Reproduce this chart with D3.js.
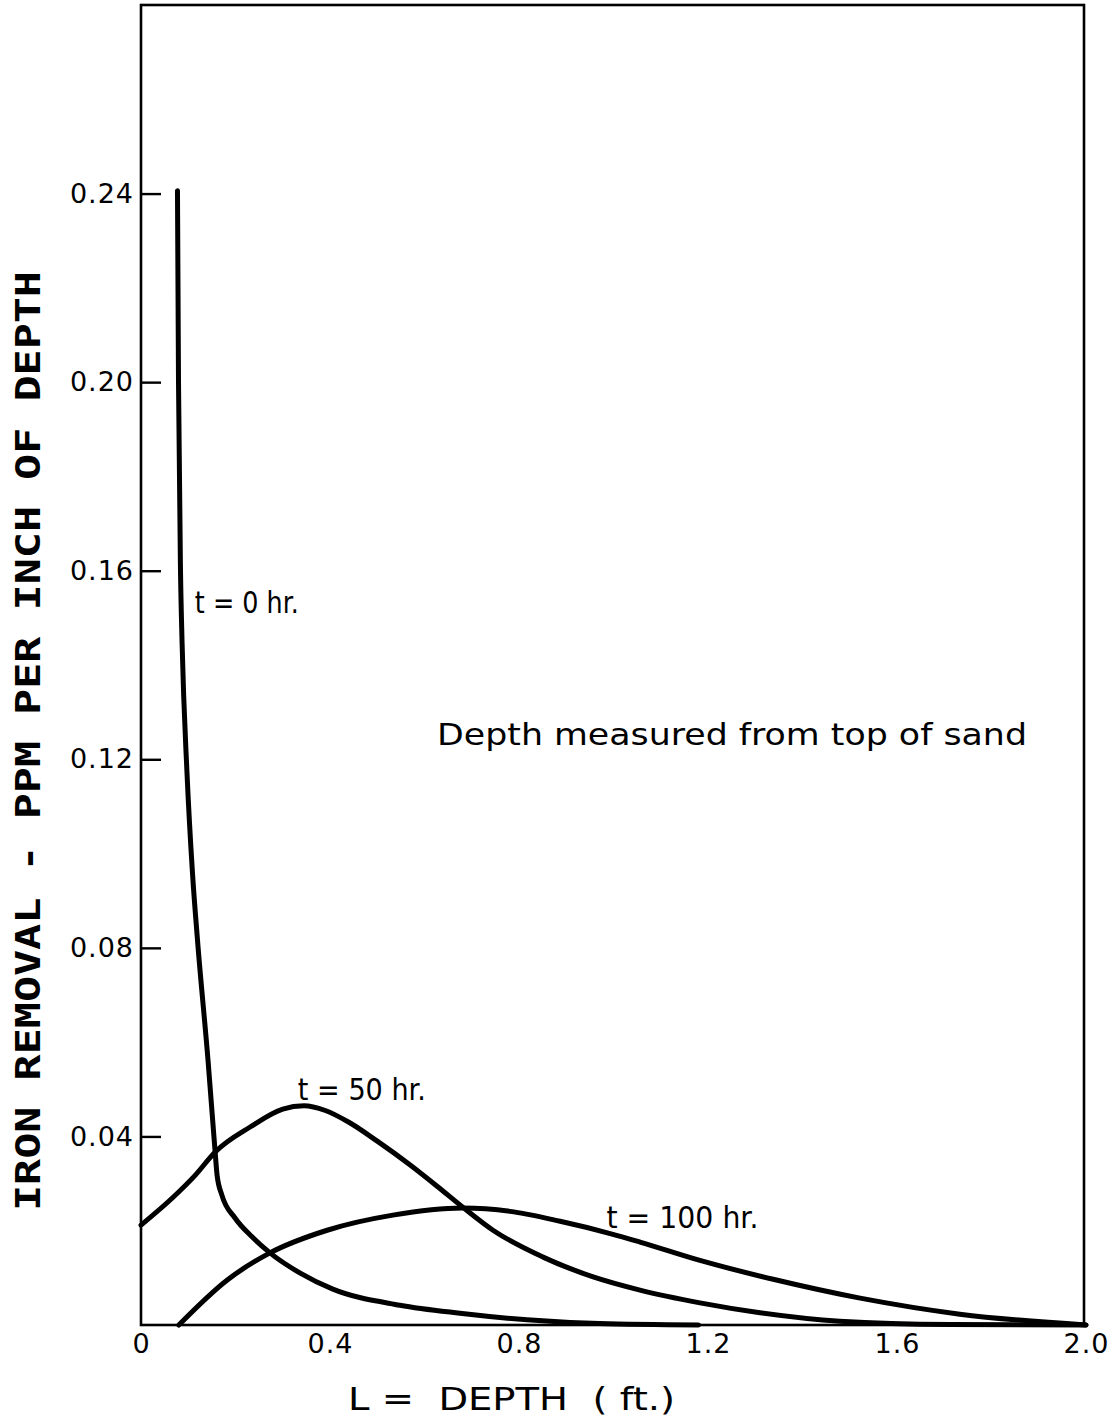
<!DOCTYPE html>
<html>
<head>
<meta charset="utf-8">
<script src="https://cdn.jsdelivr.net/npm/d3@7"></script>
<style>
  html, body { margin: 0; padding: 0; background: #fff; }
  svg { display: block; }
  .tick text { font-family: "DejaVu Sans", sans-serif; }
</style>
</head>
<body>
<svg id="chart" width="1116" height="1422"></svg>
<script>
// Iron removal per inch of depth vs. depth in the sand bed, at three run times.

// depth, ft
const depth0   = [0.0772, 0.0794, 0.0836, 0.0868, 0.0974, 0.109, 0.1196, 0.1418, 0.1566, 0.161, 0.171, 0.199, 0.235, 0.273, 0.337, 0.406, 0.548, 0.675, 0.817, 0.970, 1.18];
// removal, ppm per inch of depth
const removal0 = [0.2406, 0.1997, 0.160, 0.1452, 0.117, 0.0958, 0.0816, 0.0562, 0.0371, 0.0318, 0.0276, 0.0227, 0.0187, 0.0153, 0.0110, 0.0076, 0.0042, 0.0025, 0.0011, 0.0003, 0.0];

const depth50   = [0.0, 0.068, 0.115, 0.157, 0.231, 0.300, 0.345, 0.390, 0.440, 0.500, 0.569, 0.626, 0.681, 0.745, 0.851, 0.957, 1.056, 1.183, 1.310, 1.479, 1.712, 2.0];
const removal50 = [0.0212, 0.0271, 0.0318, 0.0367, 0.0420, 0.0458, 0.0465, 0.0455, 0.0430, 0.0390, 0.0340, 0.0295, 0.0250, 0.0201, 0.0144, 0.0102, 0.0074, 0.0047, 0.0026, 0.0008, 0.0001, 0.0];

const depth100   = [0.080, 0.182, 0.273, 0.394, 0.533, 0.681, 0.781, 0.887, 0.993, 1.056, 1.183, 1.338, 1.522, 1.733, 2.0];
const removal100 = [0.0, 0.0095, 0.0153, 0.0201, 0.0233, 0.0248, 0.0241, 0.0220, 0.0194, 0.0176, 0.0137, 0.0097, 0.0057, 0.0023, 0.0];

const seriesNames = ["t = 0 hr.", "t = 50 hr.", "t = 100 hr."];

const xTicks = [0, 0.4, 0.8, 1.2, 1.6, 2.0];
const xTickLabels = ["0", "0.4", "0.8", "1.2", "1.6", "2.0"];
const yTicks = [0.04, 0.08, 0.12, 0.16, 0.20, 0.24];
const yTickLabels = ["0.04", "0.08", "0.12", "0.16", "0.20", "0.24"];

const xTitle = "L =  DEPTH  ( ft.)";
const yTitle = "IRON REMOVAL - PPM PER INCH OF DEPTH";
const note = "Depth measured from top of sand";

const svg = d3.select("#chart");
const plot = { left: 141, right: 1086, top: 5, bottom: 1325 };

const x = d3.scaleLinear().domain([0, 2.0]).range([plot.left, plot.right]);
const y = d3.scaleLinear().domain([0, 0.28]).range([plot.bottom, plot.top]);

// frame
svg.append("rect")
  .attr("x", plot.left).attr("y", plot.top)
  .attr("width", plot.right - plot.left - 2).attr("height", plot.bottom - plot.top)
  .attr("fill", "none").attr("stroke", "#000").attr("stroke-width", 2.6);

// y axis: short inward ticks, labels to the left
const yAxis = d3.axisLeft(y)
  .tickValues(yTicks)
  .tickFormat((d, i) => yTickLabels[i])
  .tickSize(-20)
  .tickPadding(7);
const gy = svg.append("g").attr("transform", `translate(${plot.left},0)`).call(yAxis);
gy.select(".domain").remove();
gy.selectAll(".tick line").attr("stroke", "#000").attr("stroke-width", 2.4);
gy.selectAll(".tick text")
  .attr("font-size", 27).attr("fill", "#000")
  .attr("letter-spacing", 1);

// x axis: labels only
const xAxis = d3.axisBottom(x)
  .tickValues(xTicks)
  .tickFormat((d, i) => xTickLabels[i])
  .tickSize(0)
  .tickPadding(9);
const gx = svg.append("g").attr("transform", `translate(0,${plot.bottom})`).call(xAxis);
gx.select(".domain").remove();
gx.selectAll(".tick text")
  .attr("font-size", 27).attr("fill", "#000")
  .attr("letter-spacing", 1);

// curves
const line = d3.line()
  .x(d => x(d[0]))
  .y(d => y(d[1]))
  .curve(d3.curveMonotoneX);

const series = [
  d3.zip(depth0, removal0),
  d3.zip(depth50, removal50),
  d3.zip(depth100, removal100)
];

svg.append("g").selectAll("path")
  .data(series)
  .join("path")
  .attr("d", line)
  .attr("fill", "none")
  .attr("stroke", "#000")
  .attr("stroke-width", 5)
  .attr("stroke-linecap", "round")
  .attr("stroke-linejoin", "round");

// curve labels
const labelFont = "'DejaVu Sans', sans-serif";
const curveLabels = [
  { text: seriesNames[0], at: [0.114, 0.151], len: 104 },
  { text: seriesNames[1], at: [0.332, 0.0478], len: 128 },
  { text: seriesNames[2], at: [0.985, 0.0206], len: 152 }
];
svg.append("g").selectAll("text")
  .data(curveLabels)
  .join("text")
  .attr("x", d => x(d.at[0]))
  .attr("y", d => y(d.at[1]))
  .attr("font-family", labelFont)
  .attr("font-size", 30)
  .attr("textLength", d => d.len)
  .attr("lengthAdjust", "spacingAndGlyphs")
  .attr("fill", "#000")
  .text(d => d.text);

// note
svg.append("text")
  .attr("x", 437).attr("y", 745)
  .attr("font-family", labelFont)
  .attr("font-size", 31)
  .attr("textLength", 590)
  .attr("lengthAdjust", "spacingAndGlyphs")
  .attr("fill", "#000")
  .text(note);

// axis titles
svg.append("text")
  .attr("x", 348).attr("y", 1410)
  .attr("font-family", labelFont)
  .attr("font-size", 32)
  .attr("textLength", 327)
  .attr("lengthAdjust", "spacingAndGlyphs")
  .style("white-space", "pre")
  .attr("fill", "#000")
  .text(xTitle);

svg.append("text")
  .attr("transform", "translate(40,1211) rotate(-90)")
  .attr("x", 0).attr("y", 0)
  .attr("font-family", "'DejaVu Sans Mono', monospace")
  .attr("font-weight", "bold")
  .attr("font-size", 33)
  .attr("textLength", 940)
  .attr("lengthAdjust", "spacingAndGlyphs")
  .attr("fill", "#000")
  .text(yTitle);
</script>
</body>
</html>
